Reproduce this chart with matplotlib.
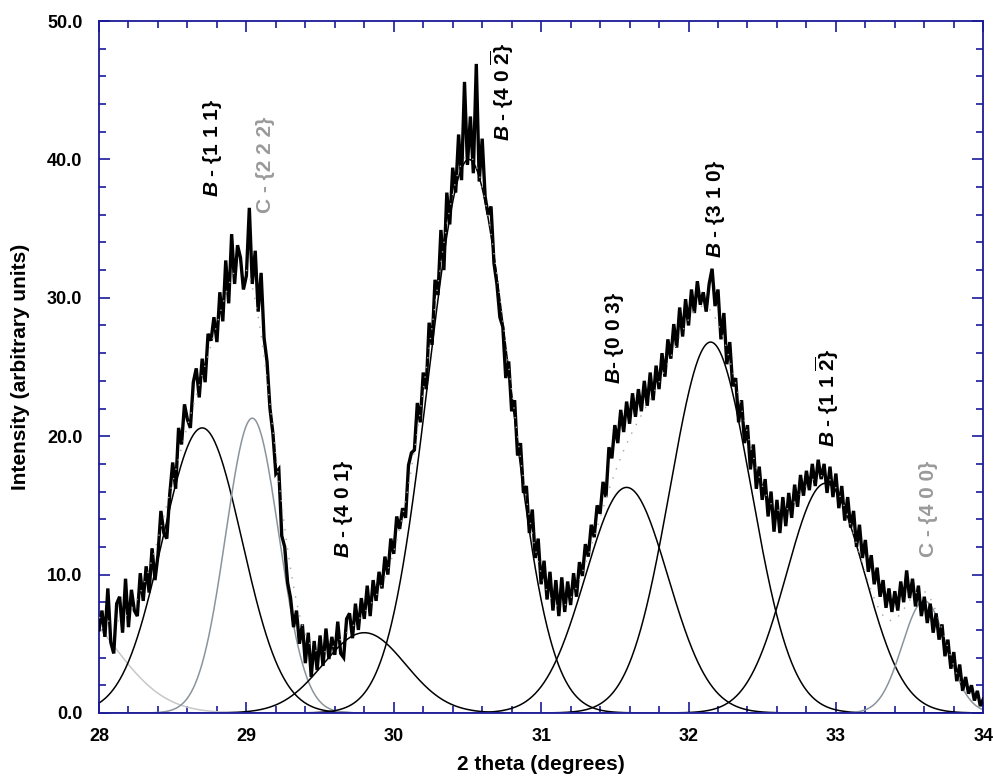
import numpy as np
import matplotlib
matplotlib.use("Agg")
import matplotlib.pyplot as plt
from matplotlib.ticker import MultipleLocator, FormatStrFormatter

plt.rcParams['font.family'] = ['Liberation Sans', 'DejaVu Sans']
plt.rcParams['font.weight'] = 'bold'
plt.rcParams['mathtext.fontset'] = 'custom'
plt.rcParams['mathtext.rm'] = 'Liberation Sans:bold'
plt.rcParams['mathtext.it'] = 'Liberation Sans:italic:bold'
plt.rcParams['mathtext.bf'] = 'Liberation Sans:bold'

# measured intensity, 28.00 .. 34.00 deg in 0.02 deg steps
intensity = [
    6.0, 7.4, 5.5, 9.0, 5.1, 4.3, 7.9, 8.4, 5.8, 9.7,
    6.2, 8.9, 7.4, 7.0, 10.1, 8.1, 10.6, 8.7, 11.9, 9.6,
    11.4, 14.6, 13.0, 12.6, 15.8, 18.1, 16.2, 20.6, 19.4, 22.3,
    21.2, 20.6, 23.9, 24.9, 22.8, 25.6, 23.9, 27.4, 26.9, 28.6,
    26.8, 30.4, 28.3, 32.7, 29.6, 34.6, 31.0, 33.8, 32.9, 30.6,
    31.6, 36.5, 31.0, 33.4, 29.0, 31.8, 27.1, 25.4, 22.0, 20.2,
    17.3, 17.6, 12.8, 12.0, 9.4, 8.3, 6.2, 7.4, 5.0, 6.4,
    3.6, 5.8, 2.6, 5.2, 3.1, 5.6, 3.4, 6.1, 3.9, 5.5,
    4.2, 6.6, 4.3, 4.0, 6.8, 7.2, 5.4, 7.9, 6.0, 8.3,
    6.8, 9.2, 7.0, 9.6, 8.1, 10.2, 9.0, 11.3, 10.0, 12.6,
    11.5, 14.2, 13.3, 14.8, 14.1, 17.9, 18.8, 19.0, 22.4, 21.0,
    24.6, 23.4, 28.2, 26.6, 31.3, 30.2, 34.9, 32.0, 37.6, 35.3,
    39.4, 37.6, 41.8, 38.5, 45.6, 39.6, 43.1, 39.0, 46.9, 38.4,
    41.5, 37.3, 36.0, 36.6, 32.5, 31.0, 28.6, 27.9, 24.2, 25.4,
    21.8, 22.6, 18.6, 19.5, 15.9, 16.4, 13.0, 14.7, 11.2, 12.6,
    9.3, 11.0, 8.2, 10.2, 7.4, 9.6, 7.0, 9.8, 7.3, 9.5,
    7.8, 10.1, 8.4, 10.9, 9.9, 12.2, 11.3, 13.6, 12.7, 15.0,
    14.4, 16.7, 15.6, 19.2, 18.4, 20.8, 19.5, 21.9, 20.3, 22.5,
    20.9, 23.1, 21.4, 23.4, 21.8, 24.0, 22.2, 24.6, 22.6, 25.1,
    23.4, 26.0, 24.3, 27.0, 25.6, 28.1, 26.4, 29.3, 27.2, 29.9,
    28.0, 30.6, 28.9, 31.2, 29.5, 30.4, 29.0, 31.0, 32.1, 29.4,
    30.6, 27.0, 28.9, 25.2, 26.8, 23.6, 24.2, 21.0, 22.6, 19.5,
    20.8, 17.6, 19.4, 16.2, 17.8, 15.4, 16.9, 14.2, 16.0, 13.1,
    15.4, 13.0, 15.6, 13.5, 15.9, 14.1, 16.5, 14.9, 17.2, 15.7,
    17.5, 16.1, 18.0, 16.4, 18.3, 16.9, 18.0, 15.9, 17.8, 15.6,
    17.3, 14.8, 16.4, 13.9, 15.6, 13.4, 14.6, 12.0, 13.6, 11.2,
    12.5, 10.2, 11.4, 9.3, 10.5, 8.4, 9.6, 7.6, 9.0, 7.3,
    8.8, 7.4, 9.5, 8.0, 10.3, 8.3, 9.7, 7.7, 9.2, 7.0,
    8.4, 6.5, 7.9, 5.8, 7.2, 5.3, 6.4, 4.1, 5.3, 3.2,
    4.4, 2.3, 3.5, 1.6, 2.6, 1.4, 2.0, 0.9, 1.6, 0.5,
    1.0,
]
two_theta = np.linspace(28.0, 34.0, len(intensity))

# fitted gaussian components: centre, height, sigma
peak_centre = [27.75, 28.70, 29.04, 29.80, 30.51, 31.58, 32.15, 32.93, 33.60]
peak_height = [8.0, 20.6, 21.3, 5.8, 40.0, 16.3, 26.8, 16.6, 8.1]
peak_sigma = [0.35, 0.27, 0.18, 0.28, 0.275, 0.28, 0.275, 0.265, 0.15]
peak_color = ['#c8c8c8', 'black', '#8a949c', 'black', 'black',
              'black', 'black', 'black', '#8a949c']

# peak labels: text, x, y (bottom of text), colour
labels = [
    (r'$B$ - {1 1 1}', 28.77, 37.3, 'black'),
    (r'C - {2 2 2}', 29.13, 36.1, '#9a9a9a'),
    (r'$B$ - {4 0 1}', 29.66, 11.2, 'black'),
    (r'$B$ - {4 0 $\overline{2}$}', 30.74, 41.3, 'black'),
    (r'$B$- {0 0 3}', 31.50, 23.8, 'black'),
    (r'$B$ - {3 1 0}', 32.18, 32.9, 'black'),
    (r'$B$ - {1 1 $\overline{2}$}', 32.94, 19.2, 'black'),
    (r'C - {4 0 0}', 33.63, 11.3, '#9a9a9a'),
]

xf = np.linspace(28.0, 34.0, 1201)
axis_blue = '#1a1a9a'

fig = plt.figure(figsize=(9.93, 7.81), dpi=100)
ax = fig.add_axes([0.0997, 0.0871, 0.8905, 0.8860])

total = np.zeros_like(xf)
for c, h, s, col in zip(peak_centre, peak_height, peak_sigma, peak_color):
    g = h * np.exp(-(xf - c) ** 2 / (2 * s ** 2))
    total += g
    ax.plot(xf, g, color=col, lw=1.1, zorder=2)

ax.plot(two_theta, intensity, color='black', lw=2.4, zorder=3,
        solid_joinstyle='miter')
ax.plot(xf, total, color='#9aa6b2', lw=1.0, ls=(0, (1, 6)), zorder=4)

for txt, x, y, col in labels:
    ax.text(x, y, txt, rotation=90, ha='center', va='bottom', fontsize=15,
            color=col, fontweight='bold')

ax.set_xlim(28, 34)
ax.set_ylim(0, 50)
ax.xaxis.set_major_locator(MultipleLocator(1))
ax.xaxis.set_minor_locator(MultipleLocator(0.2))
ax.yaxis.set_major_locator(MultipleLocator(10))
ax.yaxis.set_minor_locator(MultipleLocator(2))
ax.yaxis.set_major_formatter(FormatStrFormatter('%.1f'))

ax.tick_params(which='both', direction='in', top=True, right=True,
               color=axis_blue, width=1.2, labelsize=13)
ax.tick_params(which='major', length=8)
ax.tick_params(which='minor', length=5)
ax.tick_params(axis='y', which='major', pad=12)
ax.tick_params(axis='x', which='major', pad=11)
for sp in ax.spines.values():
    sp.set_color(axis_blue)
    sp.set_linewidth(1.3)
for lab in ax.get_xticklabels() + ax.get_yticklabels():
    lab.set_fontweight('bold')

ax.set_xlabel('2 theta (degrees)', fontsize=15, fontweight='bold', labelpad=7)
ax.set_ylabel('Intensity (arbitrary units)', fontsize=15, fontweight='bold',
              labelpad=12)

fig.savefig('out.png', dpi=100)
